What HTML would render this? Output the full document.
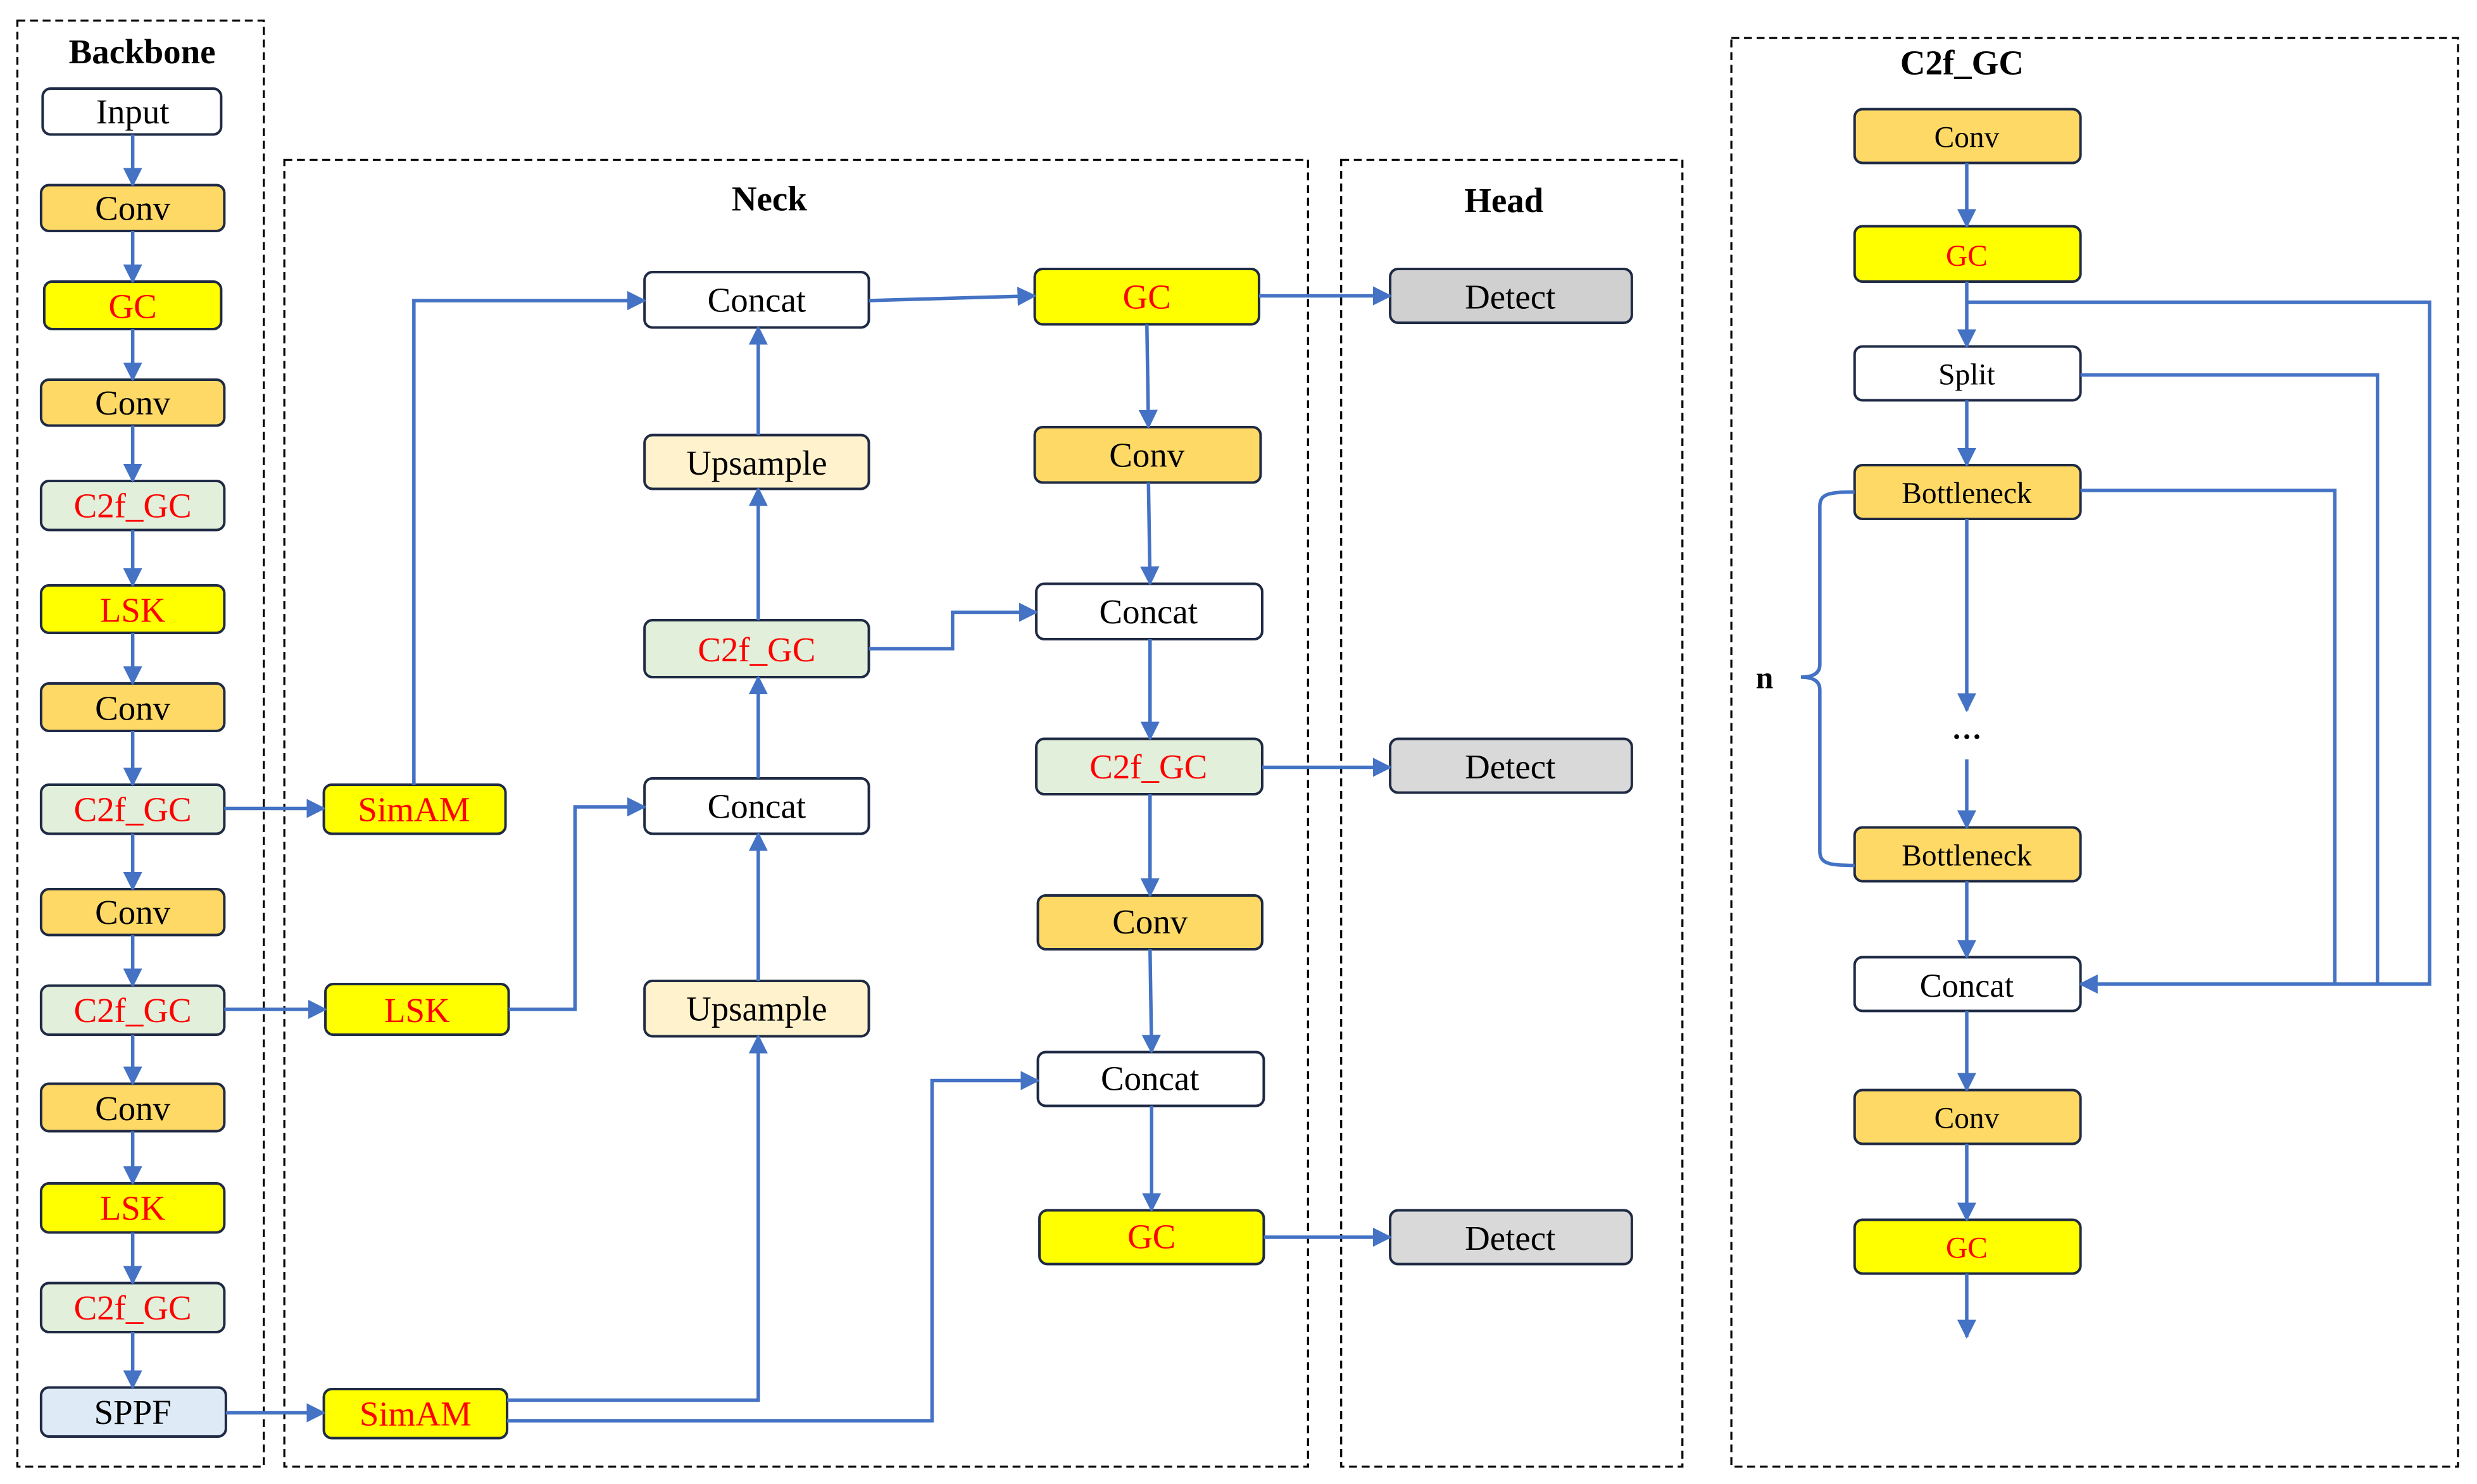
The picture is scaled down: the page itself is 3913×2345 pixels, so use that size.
<!DOCTYPE html>
<html><head><meta charset="utf-8"><style>html,body{margin:0;padding:0;background:#fff}svg{display:block}</style></head>
<body>
<svg width="3913" height="2345" viewBox="0 0 1568 938" preserveAspectRatio="none" xmlns="http://www.w3.org/2000/svg" font-family="Liberation Serif, serif">
<defs>
<marker id="a" viewBox="0 0 10 10" refX="9" refY="5" markerWidth="5.5" markerHeight="5.5" orient="auto" markerUnits="strokeWidth"><path d="M0,0L10,5L0,10z" fill="#4472C4"/></marker>
</defs>
<g fill="none" stroke="#000" stroke-width="1.3" stroke-dasharray="5,3">
<rect x="11" y="13" width="156" height="914"/>
<rect x="180" y="101" width="648" height="826"/>
<rect x="849" y="101" width="216" height="826"/>
<rect x="1096" y="24" width="460" height="903"/>
</g>
<g font-weight="bold" font-size="22" text-anchor="middle" fill="#000">
<text x="90" y="40">Backbone</text>
<text x="487" y="133">Neck</text>
<text x="952" y="134">Head</text>
<text x="1242" y="47">C2f_GC</text>
<text x="1117" y="435" font-size="20">n</text>
</g>
<g stroke="#1f2a44" stroke-width="1.6">
<rect x="27" y="56" width="113" height="29" rx="5" fill="#fff"/>
<rect x="26" y="117" width="116" height="29" rx="5" fill="#FFD966"/>
<rect x="28" y="178" width="112" height="30" rx="5" fill="#FFFF00"/>
<rect x="26" y="240" width="116" height="29" rx="5" fill="#FFD966"/>
<rect x="26" y="304" width="116" height="31" rx="5" fill="#E2EFDA"/>
<rect x="26" y="370" width="116" height="30" rx="5" fill="#FFFF00"/>
<rect x="26" y="432" width="116" height="30" rx="5" fill="#FFD966"/>
<rect x="26" y="496" width="116" height="31" rx="5" fill="#E2EFDA"/>
<rect x="26" y="562" width="116" height="29" rx="5" fill="#FFD966"/>
<rect x="26" y="623" width="116" height="31" rx="5" fill="#E2EFDA"/>
<rect x="26" y="685" width="116" height="30" rx="5" fill="#FFD966"/>
<rect x="26" y="748" width="116" height="31" rx="5" fill="#FFFF00"/>
<rect x="26" y="811" width="116" height="31" rx="5" fill="#E2EFDA"/>
<rect x="26" y="877" width="117" height="31" rx="5" fill="#DEEBF7"/>
<rect x="205" y="496" width="115" height="31" rx="5" fill="#FFFF00"/>
<rect x="206" y="622" width="116" height="32" rx="5" fill="#FFFF00"/>
<rect x="205" y="878" width="116" height="31" rx="5" fill="#FFFF00"/>
<rect x="408" y="172" width="142" height="35" rx="5" fill="#fff"/>
<rect x="408" y="275" width="142" height="34" rx="5" fill="#FFF2CC"/>
<rect x="408" y="392" width="142" height="36" rx="5" fill="#E2EFDA"/>
<rect x="408" y="492" width="142" height="35" rx="5" fill="#fff"/>
<rect x="408" y="620" width="142" height="35" rx="5" fill="#FFF2CC"/>
<rect x="655" y="170" width="142" height="35" rx="5" fill="#FFFF00"/>
<rect x="655" y="270" width="143" height="35" rx="5" fill="#FFD966"/>
<rect x="656" y="369" width="143" height="35" rx="5" fill="#fff"/>
<rect x="656" y="467" width="143" height="35" rx="5" fill="#E2EFDA"/>
<rect x="657" y="566" width="142" height="34" rx="5" fill="#FFD966"/>
<rect x="657" y="665" width="143" height="34" rx="5" fill="#fff"/>
<rect x="658" y="765" width="142" height="34" rx="5" fill="#FFFF00"/>
<rect x="880" y="170" width="153" height="34" rx="5" fill="#D0D0D0"/>
<rect x="880" y="467" width="153" height="34" rx="5" fill="#D9D9D9"/>
<rect x="880" y="765" width="153" height="34" rx="5" fill="#D9D9D9"/>
<rect x="1174" y="69" width="143" height="34" rx="5" fill="#FFD966"/>
<rect x="1174" y="143" width="143" height="35" rx="5" fill="#FFFF00"/>
<rect x="1174" y="219" width="143" height="34" rx="5" fill="#fff"/>
<rect x="1174" y="294" width="143" height="34" rx="5" fill="#FFD966"/>
<rect x="1174" y="523" width="143" height="34" rx="5" fill="#FFD966"/>
<rect x="1174" y="605" width="143" height="34" rx="5" fill="#fff"/>
<rect x="1174" y="689" width="143" height="34" rx="5" fill="#FFD966"/>
<rect x="1174" y="771" width="143" height="34" rx="5" fill="#FFFF00"/>
</g>
<g font-size="22" text-anchor="middle" fill="#000">
<text x="84" y="78">Input</text>
<text x="84" y="139">Conv</text>
<text x="84" y="201" fill="#f00">GC</text>
<text x="84" y="262">Conv</text>
<text x="84" y="327" fill="#f00">C2f_GC</text>
<text x="84" y="393" fill="#f00">LSK</text>
<text x="84" y="455">Conv</text>
<text x="84" y="519" fill="#f00">C2f_GC</text>
<text x="84" y="584">Conv</text>
<text x="84" y="646" fill="#f00">C2f_GC</text>
<text x="84" y="708">Conv</text>
<text x="84" y="771" fill="#f00">LSK</text>
<text x="84" y="834" fill="#f00">C2f_GC</text>
<text x="84" y="900">SPPF</text>
<text x="262" y="519" fill="#f00">SimAM</text>
<text x="264" y="646" fill="#f00">LSK</text>
<text x="263" y="901" fill="#f00">SimAM</text>
<text x="479" y="197">Concat</text>
<text x="479" y="300">Upsample</text>
<text x="479" y="418" fill="#f00">C2f_GC</text>
<text x="479" y="517">Concat</text>
<text x="479" y="645">Upsample</text>
<text x="726" y="195" fill="#f00">GC</text>
<text x="726" y="295">Conv</text>
<text x="727" y="394">Concat</text>
<text x="727" y="492" fill="#f00">C2f_GC</text>
<text x="728" y="590">Conv</text>
<text x="728" y="689">Concat</text>
<text x="729" y="789" fill="#f00">GC</text>
<text x="956" y="195">Detect</text>
<text x="956" y="492">Detect</text>
<text x="956" y="790">Detect</text>
<g font-size="19">
<text x="1245" y="93">Conv</text>
<text x="1245" y="168" fill="#f00">GC</text>
<text x="1245" y="243">Split</text>
<text x="1245" y="318">Bottleneck</text>
<text x="1245" y="547">Bottleneck</text>
<text x="1245" y="630" font-size="21">Concat</text>
<text x="1245" y="713">Conv</text>
<text x="1245" y="795" fill="#f00">GC</text>
<text x="1245" y="467" font-weight="bold">…</text>
</g>
</g>
<g fill="none" stroke="#4472C4" stroke-width="2.2" marker-end="url(#a)">
<path d="M84,85V117"/><path d="M84,146V178"/><path d="M84,208V240"/><path d="M84,269V304"/><path d="M84,335V370"/><path d="M84,400V432"/><path d="M84,462V496"/><path d="M84,527V562"/><path d="M84,591V623"/><path d="M84,654V685"/><path d="M84,715V748"/><path d="M84,779V811"/><path d="M84,842V877"/>
<path d="M142,511H205"/><path d="M142,638H206"/><path d="M143,893H205"/>
<path d="M262,496V190H408"/>
<path d="M322,638H364V510H408"/>
<path d="M321,885H480V655"/>
<path d="M321,898H590V683H657"/>
<path d="M480,620V527"/><path d="M480,492V428"/><path d="M480,392V309"/><path d="M480,275V207"/>
<path d="M550,190L655,187"/>
<path d="M550,410H603V387H656"/>
<path d="M726,205L727,270"/><path d="M727,305L728,369"/><path d="M728,404V467"/><path d="M728,502V566"/><path d="M728,600L729,665"/><path d="M729,699V765"/>
<path d="M797,187H880"/><path d="M799,485H880"/><path d="M800,782H880"/>
<path d="M1245,103V143"/><path d="M1245,178V219"/><path d="M1245,253V294"/><path d="M1245,328V449"/><path d="M1245,480V523"/><path d="M1245,557V605"/><path d="M1245,639V689"/><path d="M1245,723V771"/><path d="M1245,805V845"/>
<path d="M1245,191H1538V622H1317"/>
</g>
<g fill="none" stroke="#4472C4" stroke-width="2.2">
<path d="M1317,237H1505V622"/>
<path d="M1317,310H1478V622"/>
<path d="M1174,311C1158,311 1152,312 1152,320V420Q1152,428 1140,428Q1152,428 1152,436V538C1152,546 1158,547 1174,547"/>
</g>
</svg>
</body></html>
